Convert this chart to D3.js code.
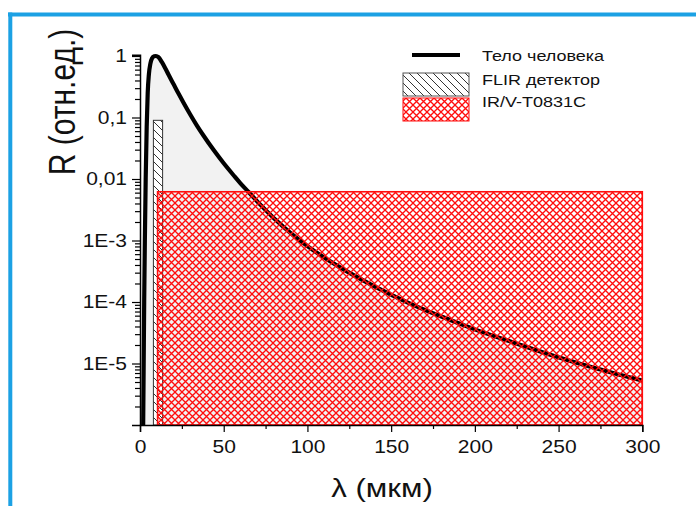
<!DOCTYPE html>
<html>
<head>
<meta charset="utf-8">
<script src="https://cdn.jsdelivr.net/npm/d3@7"></script>
<style>
  body { margin: 0; background: #fff; }
  svg { display: block; }
  text { font-family: "Liberation Sans", Arial, sans-serif; fill: #111; }
</style>
</head>
<body>
<svg id="chart" width="696" height="506"></svg>
<script>
// Relative spectral radiance of the human body vs wavelength (µm)
const wavelength = [1.9, 2.2, 2.5, 2.9, 3.4, 4.0, 4.6, 5.3, 6.2, 7.2, 8.5, 9.5,
  11, 13, 15, 17, 20, 23, 26, 30, 34, 38, 44, 50, 56, 60, 65, 72, 80, 90,
  100, 110, 120, 140, 160, 180, 200, 220, 245, 270, 300];
const bodyRadiance = [1e-6, 1e-5, 1e-4, 1e-3, 0.01, 0.07, 0.25, 0.5, 0.75, 0.92, 0.99, 1.0,
  0.96, 0.8, 0.64, 0.5, 0.35, 0.245, 0.174, 0.112, 0.074, 0.0505, 0.0295, 0.018, 0.0114, 0.0085, 0.0061,
  0.00379, 0.0023, 0.00132, 8.1e-4, 5.28e-4, 3.59e-4, 1.8e-4, 9.8e-5, 5.8e-5, 3.59e-5, 2.34e-5,
  1.39e-5, 8.7e-6, 5.28e-6];

// Detector bands: [from, to] in µm and the level drawn
const flirBand = [8, 13.5];
const flirLevel = 0.09;
const sensorBand = [10.5, 300];
const sensorLevel = 0.0062;

// Axes
const xTicks = [0, 50, 100, 150, 200, 250, 300];
const xMinorTicks = [25, 75, 125, 175, 225, 275];
const yTicks = [1, 0.1, 0.01, 1e-3, 1e-4, 1e-5];
const yTickLabels = ["1", "0,1", "0,01", "1E-3", "1E-4", "1E-5"];
const legendLabels = ["Тело человека", "FLIR детектор", "IR/V-T0831C"];

const SX = 1.2; // horizontal text stretch
const RED = "#ff0d0d";

const svg = d3.select("#chart");
const x = d3.scaleLinear().domain([0, 300]).range([140, 642.3]);
const y = d3.scaleLog().domain([1e-6, 1.05]).range([425, 56 - 61.5 * Math.log10(1.05)]);
const base = 1e-6;

// frame
svg.append("rect").attr("x", 8).attr("y", 12.5).attr("width", 688).attr("height", 4).attr("fill", "#1ca1e4");
svg.append("rect").attr("x", 8.3).attr("y", 12.5).attr("width", 4).attr("height", 494).attr("fill", "#1ca1e4");

// patterns
const defs = svg.append("defs");
const hatch = defs.append("pattern").attr("id", "hatch").attr("patternUnits", "userSpaceOnUse")
  .attr("width", 8).attr("height", 8);
hatch.append("rect").attr("width", 8).attr("height", 8).attr("fill", "#fff");
hatch.append("path").attr("d", "M-2,-2L10,10M-2,6L2,10M6,-2L10,2")
  .attr("stroke", "#333").attr("stroke-width", 1);

const cross = defs.append("pattern").attr("id", "cross").attr("patternUnits", "userSpaceOnUse")
  .attr("width", 7).attr("height", 7);
cross.append("path").attr("d", "M-1,-1L8,8M8,-1L-1,8")
  .attr("stroke", RED).attr("stroke-width", 1.35);

const pts = wavelength.map((w, i) => [w, bodyRadiance[i]]);

// area under curve
svg.append("path").datum(pts)
  .attr("d", d3.area().x(d => x(d[0])).y0(y(base)).y1(d => y(d[1])).curve(d3.curveMonotoneX))
  .attr("fill", "#f2f2f2");
svg.append("line")
  .attr("x1", x(300)).attr("x2", x(300))
  .attr("y1", y(bodyRadiance[bodyRadiance.length - 1])).attr("y2", y(base))
  .attr("stroke", "#222").attr("stroke-width", 1);

// body curve
svg.append("path").datum(pts)
  .attr("d", d3.line().x(d => x(d[0])).y(d => y(d[1])).curve(d3.curveMonotoneX))
  .attr("fill", "none").attr("stroke", "#000").attr("stroke-width", 4.2)
  .attr("stroke-linejoin", "round");

// FLIR band
svg.append("rect")
  .attr("x", x(flirBand[0])).attr("width", x(flirBand[1]) - x(flirBand[0]))
  .attr("y", y(flirLevel)).attr("height", y(base) - y(flirLevel))
  .attr("fill", "url(#hatch)").attr("stroke", "#333").attr("stroke-width", 1);

// IR/V-T0831C band
svg.append("rect")
  .attr("x", x(sensorBand[0])).attr("width", x(sensorBand[1]) - x(sensorBand[0]))
  .attr("y", y(sensorLevel)).attr("height", y(base) - y(sensorLevel))
  .attr("fill", "url(#cross)").attr("stroke", RED).attr("stroke-width", 1.6);

// x axis
const gx = svg.append("g").attr("transform", `translate(0,${y(base)})`)
  .call(d3.axisBottom(x).tickValues(xTicks).tickFormat(d3.format("d")).tickSize(7).tickPadding(9));
svg.append("g").attr("transform", `translate(0,${y(base)})`)
  .call(d3.axisBottom(x).tickValues(xMinorTicks).tickFormat("").tickSize(4))
  .call(g => g.select(".domain").remove());

// y axis
const yMinor = [];
for (let e = -6; e <= -1; e++) for (let m = 2; m <= 9; m++) yMinor.push(m * Math.pow(10, e));
const gy = svg.append("g").attr("transform", `translate(${x(0)},0)`)
  .call(d3.axisLeft(y).tickValues(yTicks).tickFormat((d, i) => yTickLabels[i]).tickSize(8).tickPadding(5));
svg.append("g").attr("transform", `translate(${x(0)},0)`)
  .call(d3.axisLeft(y).tickValues(yMinor).tickFormat("").tickSize(5))
  .call(g => g.select(".domain").remove());

svg.selectAll(".domain").attr("stroke", "#000").attr("stroke-width", 1.5);
svg.selectAll(".tick line").attr("stroke", "#000").attr("stroke-width", 1.2);

gx.selectAll("text").attr("font-size", 17.5).attr("transform", `scale(${SX},1)`).attr("fill", "#111");
gy.selectAll("text").attr("font-size", 17.5).attr("x", -13 / SX)
  .attr("transform", `scale(${SX},1)`).attr("fill", "#111");

// axis titles
svg.append("text").attr("transform", `translate(382,497) scale(${SX},1)`)
  .attr("text-anchor", "middle").attr("font-size", 26).text("λ (мкм)");
svg.append("text").attr("transform", `translate(75,102) scale(${SX},1) rotate(-90)`)
  .attr("text-anchor", "middle").attr("font-size", 30).text("R (отн.ед.)");

// legend
const lg = svg.append("g");
lg.append("line").attr("x1", 412).attr("x2", 460).attr("y1", 55).attr("y2", 55)
  .attr("stroke", "#000").attr("stroke-width", 4.2);
lg.append("rect").attr("x", 403).attr("y", 73).attr("width", 66).attr("height", 23)
  .attr("fill", "url(#hatch)").attr("stroke", "#555").attr("stroke-width", 1);
lg.append("rect").attr("x", 403).attr("y", 98).attr("width", 66).attr("height", 23)
  .attr("fill", "url(#cross)").attr("stroke", RED).attr("stroke-width", 1);
const lgBase = [60.5, 84.5, 106.5];
legendLabels.forEach((t, i) => {
  lg.append("text").attr("transform", `translate(482,${lgBase[i]}) scale(${SX},1)`)
    .attr("font-size", 15).text(t);
});
</script>
</body>
</html>
